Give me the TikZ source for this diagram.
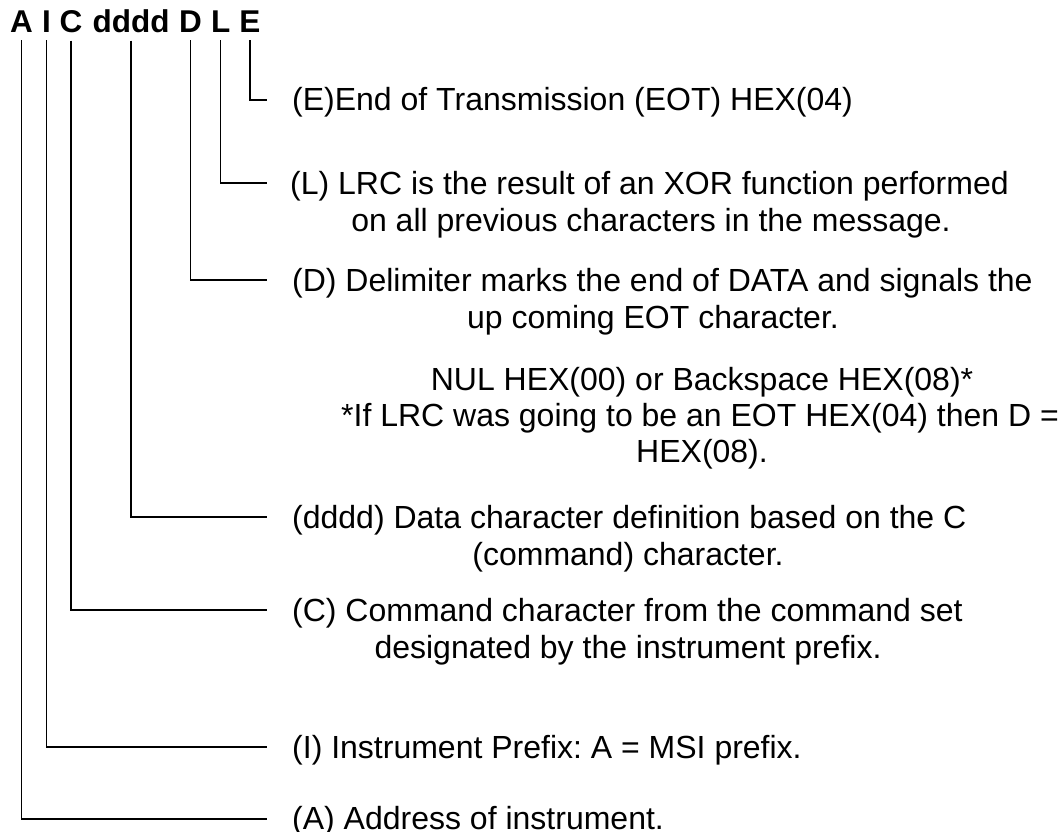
\documentclass[tikz,border=0pt]{standalone}
\usepackage{fontspec}
\setmainfont{Liberation Sans}
\frenchspacing
\begin{document}
\begin{tikzpicture}[x=1pt,y=-1pt,
  hdr/.style={anchor=base,inner sep=0pt,font=\fontsize{31.5}{37}\selectfont\bfseries},
  txt/.style={anchor=base,inner sep=0pt,font=\fontsize{32}{37}\selectfont},
  txtl/.style={anchor=base west,inner sep=0pt,font=\fontsize{32}{37}\selectfont},
  conn/.style={draw=black,line width=1.3pt}]
\useasboundingbox (0,0) rectangle (1060,832);
% header letters
\node[hdr] (hA) at (21.5,33) {A};
\node[hdr] (hI) at (46.5,33) {I};
\node[hdr] (hC) at (71,33) {C};
\node[hdr] (hd) at (131,33) {dddd};
\node[hdr] (hD) at (190.5,33) {D};
\node[hdr] (hL) at (220.7,33) {L};
\node[hdr] (hE) at (250,33) {E};
% end points of connectors
\coordinate (eE) at (267,100);
\coordinate (eL) at (267,183);
\coordinate (eD) at (267,280);
\coordinate (ed) at (267,517);
\coordinate (eC) at (267,610);
\coordinate (eI) at (267,747);
\coordinate (eA) at (267,819);
% texts
\node[txtl] (tE) at (292,111) {(E)End of Transmission (EOT) HEX(04)};
\node[txtl] (tL1) at (290,194) {(L) LRC is the result of an XOR function performed};
\node[txt] (tL2) at (651,231) {on all previous characters in the message.};
\node[txtl] (tD1) at (292,291) {(D) Delimiter marks the end of DATA and signals the};
\node[txt] (tD2) at (653,328) {up coming EOT character.};
\node[txt] (tN1) at (702,390) {NUL HEX(00) or Backspace HEX(08)*};
\node[txt] (tN2) at (700,426) {*If LRC was going to be an EOT HEX(04) then D =};
\node[txt] (tN3) at (702,462) {HEX(08).};
\node[txtl] (td1) at (292,528) {(dddd) Data character definition based on the C};
\node[txt] (td2) at (628,565) {(command) character.};
\node[txtl] (tC1) at (292,621) {(C) Command character from the command set};
\node[txt] (tC2) at (628,658) {designated by the instrument prefix.};
\node[txtl] (tI) at (292,758) {(I) Instrument Prefix: A = MSI prefix.};
\node[txtl] (tA) at (292,829) {(A) Address of instrument.};
% connectors
\draw[conn] ([yshift=-7pt]hE.south) |- (eE);
\draw[conn] ([yshift=-7pt]hL.south) |- (eL);
\draw[conn] ([yshift=-7pt]hD.south) |- (eD);
\draw[conn] ([yshift=-7pt]hd.south) |- (ed);
\draw[conn] ([yshift=-7pt]hC.south) |- (eC);
\draw[conn] ([yshift=-7pt]hI.south) |- (eI);
\draw[conn] ([yshift=-7pt]hA.south) |- (eA);
\end{tikzpicture}
\end{document}
